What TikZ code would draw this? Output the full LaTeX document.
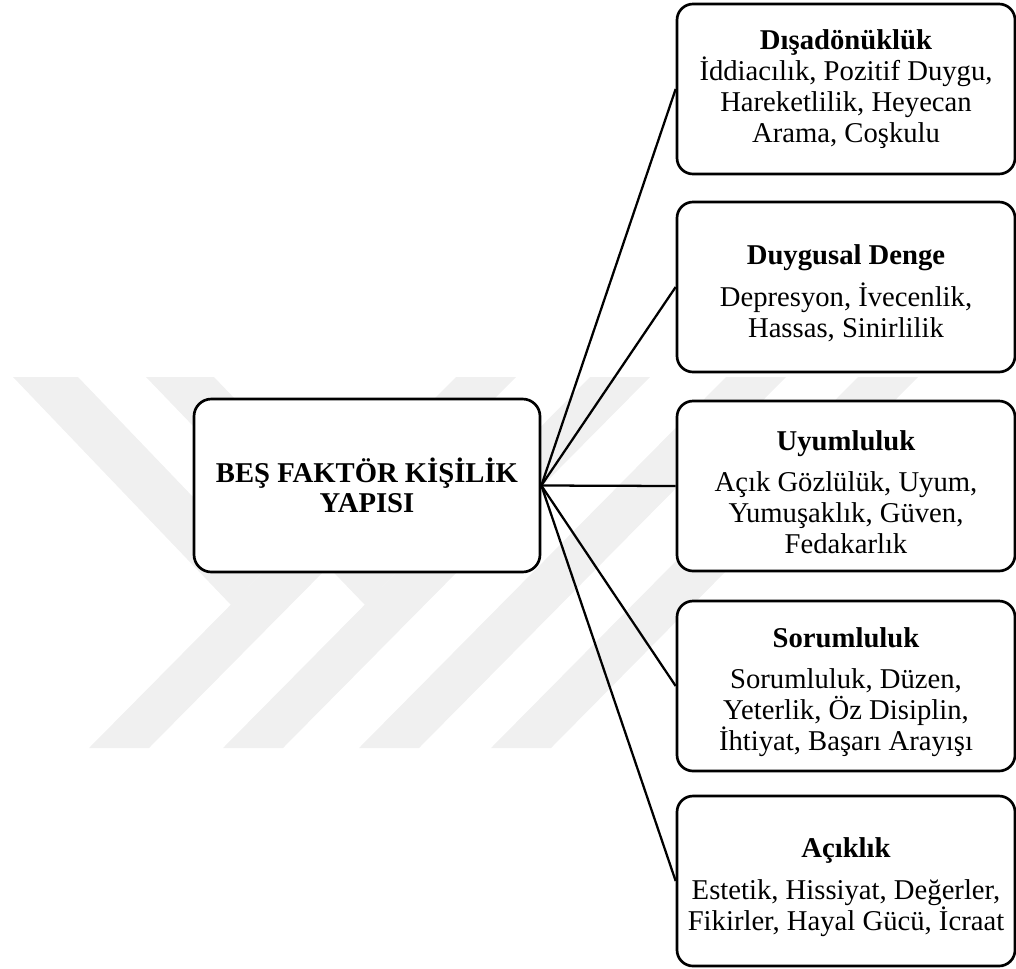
\documentclass[tikz,border=0pt]{standalone}
\usepackage{fontspec}
\setmainfont{Liberation Serif}
\newcommand\toppad{\rule{0pt}{24pt}}
\tikzset{
  factor/.style={draw, line width=2pt, rounded corners=12pt, fill=white,
    minimum width=253.5pt, minimum height=127.5pt, inner sep=0pt, align=center,
    font=\fontsize{21.5}{23.25}\selectfont},
  core/.style={factor, minimum width=259.5pt, minimum height=129.75pt,
    rounded corners=13pt, font=\bfseries\fontsize{21.5}{22.5}\selectfont},
  link/.style={line width=1.7pt},
  wmark/.style={fill=black!6, draw=none}
}
\begin{document}
\begin{tikzpicture}[x=0.75pt,y=-0.75pt]
\useasboundingbox (0,0) rectangle (1016,968);
% watermark
\fill[wmark] (13,377) -- (78,377) -- (264,571) -- (231,605) -- cycle;
\fill[wmark] (146,377) -- (214,377) -- (399,570) -- (365,605) -- cycle;
\foreach \b in {89,223,359,491}
  \fill[wmark] (\b,748) -- ({\b+60},748) -- ({\b+427},377) -- ({\b+367},377) -- cycle;
% boxes
\node[core] (core) at (367,485.5) {BEŞ FAKTÖR KİŞİLİK\\YAPISI};
\node[factor] (dis) at (846,89) {\textbf{Dışadönüklük}\\ İddiacılık, Pozitif Duygu,\\ Hareketlilik, Heyecan\\ Arama, Coşkulu};
\node[factor] (duy) at (846,287) {\toppad\textbf{Duygusal Denge}\\[8pt] Depresyon, İvecenlik,\\ Hassas, Sinirlilik};
\node[factor] (uyu) at (846,486) {\toppad\textbf{Uyumluluk}\\[8pt] Açık Gözlülük, Uyum,\\ Yumuşaklık, Güven,\\ Fedakarlık};
\node[factor] (sor) at (846,686) {\toppad\textbf{Sorumluluk}\\[8pt] Sorumluluk, Düzen,\\ Yeterlik, Öz Disiplin,\\ İhtiyat, Başarı Arayışı};
\node[factor] (aci) at (846,881) {\toppad\textbf{Açıklık}\\[8pt] Estetik, Hissiyat, Değerler,\\ Fikirler, Hayal Gücü, İcraat};
% links
\foreach \f in {dis,duy,uyu,sor,aci}
  \draw[link] (core.east) -- (\f.west);
\end{tikzpicture}
\end{document}
